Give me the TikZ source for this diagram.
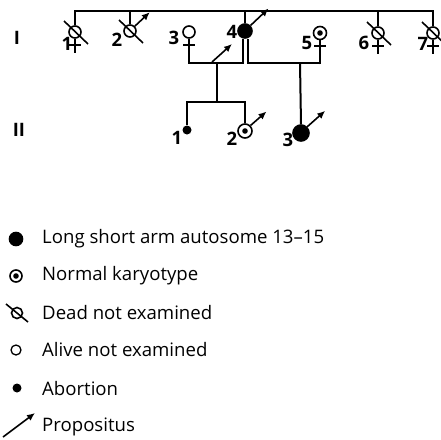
\documentclass[tikz,border=0pt]{standalone}
\usepackage{fontspec}
\setmainfont{Open Sans}
\usetikzlibrary{arrows.meta, positioning}

\tikzset{
  ped/.style={line width=2pt},
  sym/.style={circle, draw, line width=1.6pt, minimum size=12pt, inner sep=0pt},
  aff/.style={sym, fill=black, minimum size=14pt},
  norm/.style={sym, path picture={\fill (path picture bounding box.center) circle (2.8pt);}},
  abort/.style={circle, fill=black, minimum size=9pt, inner sep=0pt},
  lbl/.style={font=\fontsize{18.5}{18.5}\selectfont\bfseries, inner sep=0pt},
  key/.style={anchor=west, inner sep=0pt, font=\fontsize{18.6}{20}\selectfont},
  marrow/.style={line width=1.6pt, -{Latex[length=8pt,width=7pt]}},
  dead/.style={line width=1.6pt},
}

\begin{document}
\begin{tikzpicture}[x=1pt, y=-1pt]
	\useasboundingbox (0,0) rectangle (441,439);
	% generation labels
	\node[lbl] (g1) at (17,38) {I};
	\node[lbl] (g2) at (19,130) {II};
	% generation I
	\node[sym] (i1) at (75,32) {};
	\node[sym] (i2) at (130,31) {};
	\node[sym] (i3) at (189,32) {};
	\node[aff] (i4) at (245,31) {};
	\node[norm, minimum size=13pt] (i5) at (320,33) {};
	\node[sym] (i6) at (378,33) {};
	\node[sym] (i7) at (433,33) {};
	\node[lbl] (n1) at (67,44) {1};
	\node[lbl] (n2) at (117,40) {2};
	\node[lbl] (n3) at (174,38) {3};
	\node[lbl] (n4) at (232,32) {4};
	\node[lbl] (n5) at (307,43) {5};
	\node[lbl] (n6) at (364,43) {6};
	\node[lbl] (n7) at (423,44) {7};
	% female crosses
	\draw[ped] (i1.south) -- ++(0,14) (i1.south) ++(-6,6) -- ++(12,0);
	\draw[ped] (i3.south) -- ++(0,25) coordinate (i3c) (i3.south) ++(-6,6) -- ++(12,0);
	\draw[ped] (i5.south) -- ++(0,24) coordinate (i5c) (i5.south) ++(-6,6) -- ++(12,0);
	\draw[ped] (i6.south) -- ++(0,14) (i6.south) ++(-6,6) -- ++(12,0);
	\draw[ped] (i7.south) -- ++(0,14) (i7.south) ++(-6,6) -- ++(12,0);
	% male arrows
	\draw[marrow] (i2.45) -- ++(15,-14);
	\draw[marrow] (i4.45) -- ++(18,-17);
	% dead
	\draw[dead] (i1.center) ++(-11,-11) -- ++(24,23);
	\draw[dead] (i2.center) ++(-11,-11) -- ++(24,23);
	\draw[dead] (i6.center) ++(-11,-11) -- ++(24,23);
	\draw[dead] (i7.center) ++(-11,-11) -- ++(24,23);
	% sibship I
	\coordinate (top) at (0,11);
	\draw[ped] (i1.north) |- (top -| i7) -- (i7.north);
	\draw[ped] (i2.north) -- (top -| i2);
	\draw[ped] (i4.north) -- (top -| i4);
	\draw[ped] (i6.north) -- (top -| i6);
	% marriages
	\coordinate (i4l) at ([xshift=-2.5pt]i4.south);
	\coordinate (i4r) at ([xshift=2.5pt]i4.south);
	\coordinate (m34) at (217,63);
	\coordinate (m45) at (300,63);
	\draw[ped] (i3c) |- (i4l |- m34) -- (i4l);
	\draw[ped] (i5c) |- (i4r |- m45) -- (i4r);
	% propositus
	\coordinate (pro) at (212,62);
	\draw[marrow] (pro) -- ++(20,-18);
	% generation II
	\node[abort] (ii1) at (187,130) {};
	\node[norm, minimum size=14pt] (ii2) at (245,131) {};
	\node[aff, minimum size=16pt] (ii3) at (301,133) {};
	\node[lbl] (m1) at (177,138) {1};
	\node[lbl] (m2) at (232,139) {2};
	\node[lbl] (m3) at (288,140) {3};
	\coordinate (s2) at (217,102);
	\draw[ped] (m34) -- (s2);
	\draw[ped] (ii1.north) |- (s2) -| (ii2.north);
	\draw[ped] (m45) -- (ii3.north);
	\draw[marrow] (ii2.45) -- ++(16,-14);
	\draw[marrow] (ii3.45) -- ++(18,-16);
	% key
	\node[aff, minimum size=13pt] (k1) at (16,239) {};
	\node[norm] (k2) at (16,276) {};
	\node[sym, minimum size=11pt] (k3) at (17,313) {};
	\draw[dead] (k3.center) ++(-11,-9) -- ++(22,18);
	\node[sym, minimum size=10pt, line width=1.3pt] (k4) at (16,350) {};
	\node[abort, minimum size=9pt] (k5) at (17,388) {};
	\coordinate (k6) at (3,437);
	\draw[marrow] (k6) -- ++(32,-24);
	\node[key] (t1) at (42,239) {Long short arm autosome 13--15};
	\node[key] (t2) at (42,276) {Normal karyotype};
	\node[key] (t3) at (42,313) {Dead not examined};
	\node[key] (t4) at (42,350) {Alive not examined};
	\node[key] (t5) at (42,389) {Abortion};
	\node[key] (t6) at (42,427) {Propositus};
\end{tikzpicture}
\end{document}
